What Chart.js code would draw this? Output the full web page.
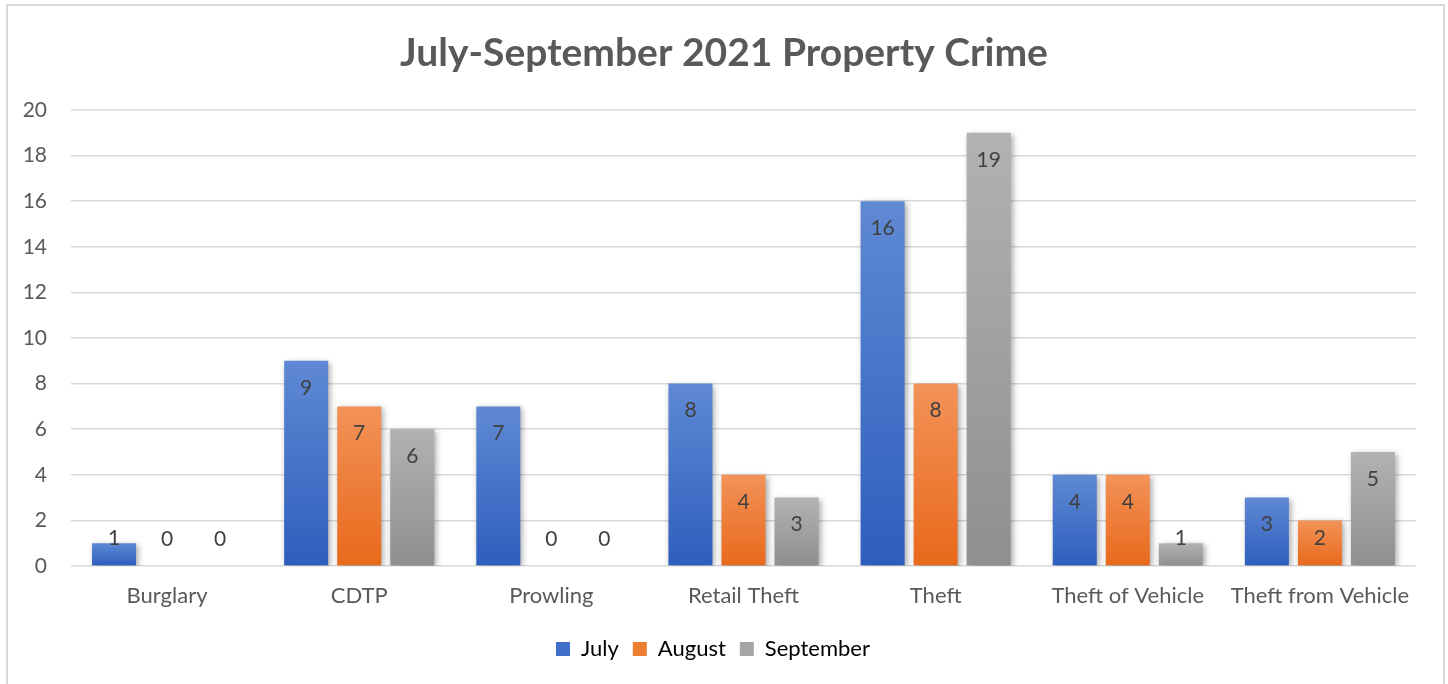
<!DOCTYPE html>
<html>
<head>
<meta charset="utf-8">
<script src="https://cdn.jsdelivr.net/npm/chart.js@4.4.0/dist/chart.umd.min.js"></script>
<style>
  html, body { margin: 0; padding: 0; background: #ffffff; }
  #wrap { position: relative; width: 1448px; height: 684px; }
</style>
</head>
<body>
<div id="wrap"><canvas id="c" width="1448" height="684"></canvas></div>
<script>
const categories = ["Burglary", "CDTP", "Prowling", "Retail Theft", "Theft", "Theft of Vehicle", "Theft from Vehicle"];
const july = [1, 9, 7, 8, 16, 4, 3];
const august = [0, 7, 0, 4, 8, 4, 2];
const september = [0, 6, 0, 3, 19, 1, 5];
const seriesNames = ["July", "August", "September"];
const yTicks = [0, 2, 4, 6, 8, 10, 12, 14, 16, 18, 20];
const titleText = "July-September 2021 Property Crime";

const FONT = "Lato, 'Open Sans', sans-serif";
const TEXT = "#595959";

const palettes = [
  { top: "#5f89d4", bottom: "#2e5ebd", solid: "#3f6fc8" },
  { top: "#f39258", bottom: "#e8691b", solid: "#ed7d31" },
  { top: "#b2b2b2", bottom: "#8f8f8f", solid: "#a5a5a5" }
];

function gradFill(idx) {
  return function (c) {
    const p = palettes[idx];
    if (c.type !== 'data') return p.solid;
    const chart = c.chart;
    const ys = chart.scales && chart.scales.y;
    if (!ys || !chart.chartArea) return p.solid;
    const top = ys.getPixelForValue(c.raw);
    const bot = ys.getPixelForValue(0);
    if (!isFinite(top) || !isFinite(bot) || Math.abs(bot - top) < 0.5) return p.solid;
    const g = chart.ctx.createLinearGradient(0, top, 0, bot);
    g.addColorStop(0, p.top);
    g.addColorStop(1, p.bottom);
    return g;
  };
}

const frame = {
  id: 'frame',
  beforeDraw(chart) {
    const ctx = chart.ctx;
    ctx.save();
    ctx.fillStyle = '#ffffff';
    ctx.fillRect(0, 0, chart.width, chart.height);
    ctx.strokeStyle = '#d9d9d9';
    ctx.lineWidth = 2;
    ctx.strokeRect(7, 5, 1437, 690);
    ctx.fillStyle = TEXT;
    ctx.font = "bold 39px " + FONT;
    ctx.textAlign = 'center';
    ctx.textBaseline = 'middle';
    ctx.fillText(titleText, 724, 53);
    ctx.restore();
  },
  beforeDatasetsDraw(chart) {
    const ctx = chart.ctx;
    ctx.save();
    ctx.shadowColor = 'rgba(0,0,0,0.35)';
    ctx.shadowBlur = 6;
    ctx.shadowOffsetX = 2;
    ctx.shadowOffsetY = 2;
  },
  afterDatasetsDraw(chart) {
    const ctx = chart.ctx;
    ctx.restore();
    ctx.save();
    ctx.fillStyle = "#404040";
    ctx.font = "21px " + FONT;
    ctx.textAlign = 'center';
    ctx.textBaseline = 'middle';
    chart.data.datasets.forEach((ds, i) => {
      const meta = chart.getDatasetMeta(i);
      meta.data.forEach((el, j) => {
        const y = Math.min(el.y + 27, el.base - 27);
        ctx.fillText(String(ds.data[j]), el.x, y);
      });
    });
    ctx.restore();
  }
};

new Chart(document.getElementById('c'), {
  type: 'bar',
  data: {
    labels: categories,
    datasets: [
      { label: seriesNames[0], data: july, backgroundColor: gradFill(0), borderWidth: 0 },
      { label: seriesNames[1], data: august, backgroundColor: gradFill(1), borderWidth: 0 },
      { label: seriesNames[2], data: september, backgroundColor: gradFill(2), borderWidth: 0 }
    ]
  },
  options: {
    responsive: false,
    animation: false,
    layout: { padding: { left: 10, right: 32, top: 110, bottom: 14 } },
    datasets: { bar: { barPercentage: 0.83, categoryPercentage: 0.828 } },
    plugins: {
      title: { display: false },
      tooltip: { enabled: false },
      legend: {
        position: 'bottom',
        labels: {
          boxWidth: 14, boxHeight: 14, padding: 14,
          color: TEXT,
          font: { family: FONT, size: 22 },
          generateLabels(chart) {
            return chart.data.datasets.map((ds, i) => ({
              text: ds.label, fillStyle: palettes[i].solid, strokeStyle: palettes[i].solid,
              lineWidth: 0, hidden: false, datasetIndex: i
            }));
          }
        }
      }
    },
    scales: {
      x: {
        grid: { display: false, drawTicks: false },
        border: { display: false },
        ticks: { color: TEXT, font: { family: FONT, size: 22 }, padding: 17, maxRotation: 0, autoSkip: false },
        afterFit(s) { s.height = 58; }
      },
      y: {
        min: 0, max: 20,
        afterBuildTicks(s) { s.ticks = yTicks.map(v => ({ value: v })); },
        grid: { color: '#d9d9d9', lineWidth: 1.5, drawTicks: false },
        border: { display: false },
        ticks: { color: TEXT, font: { family: FONT, size: 21 }, padding: 24 },
        afterFit(s) { s.width = 61; }
      }
    }
  },
  plugins: [frame]
});
</script>
</body>
</html>
